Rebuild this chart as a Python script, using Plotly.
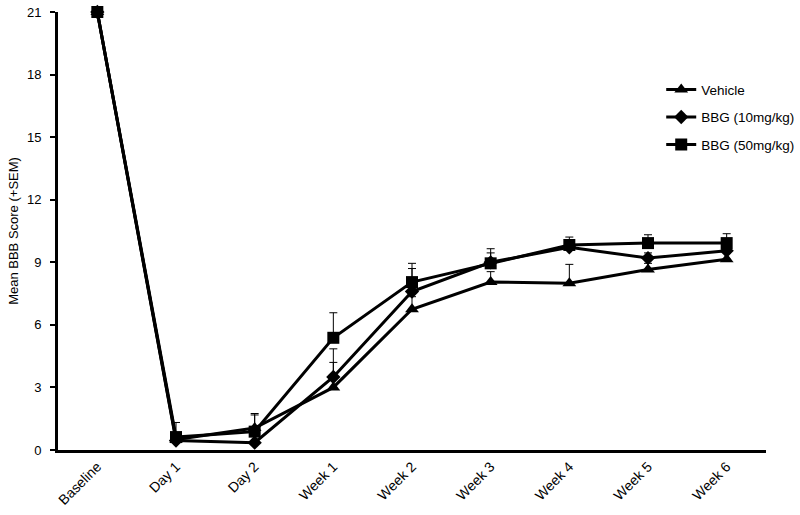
import plotly.graph_objects as go

categories = ["Baseline", "Day 1", "Day 2", "Week 1", "Week 2", "Week 3", "Week 4", "Week 5", "Week 6"]

vehicle = [21, 0.5, 1.05, 3.0, 6.75, 8.05, 8.0, 8.65, 9.15]
vehicle_sem = [0, 0.3, 0.7, 1.2, 0.6, 0.5, 0.9, 0.3, 0.3]

bbg10 = [21, 0.45, 0.35, 3.5, 7.6, 9.0, 9.72, 9.2, 9.55]
bbg10_sem = [0, 0.3, 0.4, 1.35, 1.1, 0.45, 0.3, 0.25, 0.3]

bbg50 = [21, 0.62, 0.88, 5.38, 8.05, 8.95, 9.83, 9.92, 9.92]
bbg50_sem = [0, 0.7, 0.8, 1.2, 0.9, 0.7, 0.38, 0.4, 0.45]

y_ticks = [0, 3, 6, 9, 12, 15, 18, 21]

FONT = "Liberation Sans, Arial, sans-serif"

series = [
    ("Vehicle", vehicle, vehicle_sem, "triangle-up", 12),
    ("BBG (10mg/kg)", bbg10, bbg10_sem, "diamond", 11),
    ("BBG (50mg/kg)", bbg50, bbg50_sem, "square", 12),
]

fig = go.Figure()
for i, (name, vals, sem, sym, size) in enumerate(series):
    fig.add_trace(go.Scatter(
        x=categories, y=vals, name=name, mode="lines+markers",
        line=dict(color="black", width=3),
        marker=dict(symbol=sym, size=size, color="black"),
        error_y=dict(type="data", symmetric=False, array=sem,
                     arrayminus=[0] * len(sem), color="black",
                     thickness=1, width=4),
        cliponaxis=False,
        legendgroup=f"g{i}",
    ))

fig.update_layout(
    width=800, height=515,
    margin=dict(l=58, r=34, t=12, b=65, autoexpand=False),
    paper_bgcolor="white", plot_bgcolor="white",
    font=dict(family=FONT, size=12, color="black"),
    showlegend=True,
    legend=dict(x=0.852, y=0.858, xanchor="left", yanchor="top",
                font=dict(size=13.5, family=FONT, color="black"),
                tracegroupgap=7, bgcolor="rgba(0,0,0,0)"),
    xaxis=dict(
        type="category", range=[-0.5, 8.5], automargin=False,
        showline=True, linecolor="black", linewidth=3,
        showgrid=False, zeroline=False, ticks="",
        tickangle=-45, tickfont=dict(size=14, family=FONT),
    ),
    yaxis=dict(
        range=[0, 21], tickvals=y_ticks, automargin=False,
        showline=True, linecolor="black", linewidth=3,
        showgrid=False, zeroline=False,
        ticks="outside", ticklen=5, tickwidth=2, tickcolor="black",
        ticklabelstandoff=6, ticklabeloverflow="allow",
        tickfont=dict(size=13, family=FONT),
        title=dict(text="Mean BBB Score (+SEM)", font=dict(size=13, family=FONT), standoff=6),
    ),
)

fig.write_html(
    "out.html",
    config={"displayModeBar": False},
    post_script="document.body.style.margin='0';document.body.style.overflow='hidden';",
)
